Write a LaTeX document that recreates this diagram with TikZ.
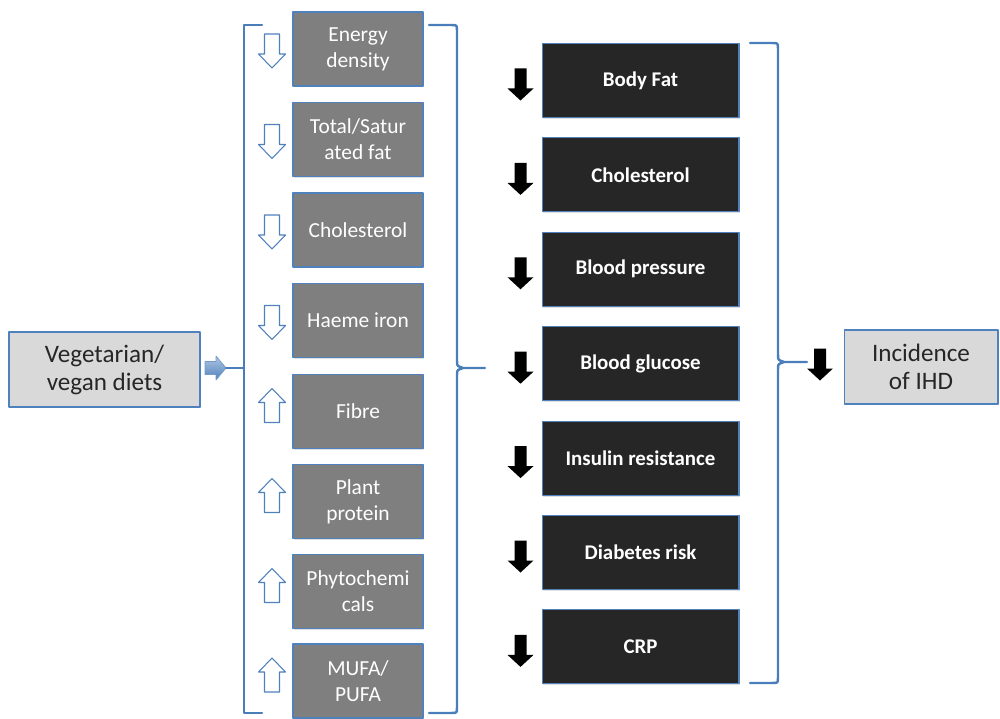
\documentclass[tikz,border=0pt]{standalone}
\usepackage{fontspec}
\setmainfont{Carlito}
\usetikzlibrary{shadows}
\definecolor{brkblue}{HTML}{4A7EBB}
\definecolor{boxblue}{HTML}{4F81BD}
\definecolor{factgray}{HTML}{7F7F7F}
\definecolor{riskblack}{HTML}{262626}
\definecolor{endgray}{HTML}{D9D9D9}
\definecolor{endtext}{HTML}{262626}
\tikzset{
  brk/.style={draw=brkblue, line width=1.4pt},
  boxshadow/.style={drop shadow={shadow xshift=0.8pt, shadow yshift=-0.8pt, opacity=0.25}},
  factbox/.style={draw=boxblue, line width=0.6pt, fill=factgray, text=white, boxshadow,
    minimum width=2.6cm, minimum height=1.48cm, inner sep=1pt, align=center,
    font=\fontsize{12.2}{14.8}\selectfont},
  riskbox/.style={draw=boxblue, line width=0.6pt, fill=riskblack, text=white, boxshadow,
    minimum width=3.94cm, minimum height=1.48cm, inner sep=1pt, align=center,
    font=\fontsize{11.9}{14}\selectfont\bfseries},
  endbox/.style={draw=boxblue, line width=0.6pt, fill=endgray, text=endtext, boxshadow,
    inner sep=1pt, align=center, font=\fontsize{14.3}{16}\selectfont},
  hollow/.style={draw=boxblue, line width=0.6pt, fill=white},
  % block arrows, drawn in picture units (1 unit = 1 px of the layout)
  pics/hollowdown/.style={code={
    \draw[hollow] (-7.5,-15) -- (7.5,-15) -- (7.5,5) -- (13.5,5) -- (0,19) -- (-13.5,5) -- (-7.5,5) -- cycle;}},
  pics/hollowup/.style={code={
    \draw[hollow] (-7.5,11) -- (7.5,11) -- (7.5,-9) -- (13.5,-9) -- (0,-23) -- (-13.5,-9) -- (-7.5,-9) -- cycle;}},
  pics/soliddown/.style={code={
    \fill[black] (-6,-16) -- (6,-16) -- (6,4) -- (13,4) -- (0,16) -- (-13,4) -- (-6,4) -- cycle;}},
  pics/blueright/.style={code={
    \shade[top color=boxblue!45, bottom color=boxblue, draw=boxblue!80, line width=0.4pt]
      (-10,-6.5) -- (1,-6.5) -- (1,-12) -- (11,0) -- (1,12) -- (1,6.5) -- (-10,6.5) -- cycle;}},
}
\begin{document}
\begin{tikzpicture}[x=0.02cm, y=-0.02cm, line join=round, line cap=round]
\useasboundingbox (0,0) rectangle (1000,719);
% diet and outcome
\node[endbox, minimum width=3.82cm, minimum height=1.5cm] (veg) at (104.5,369.5) {Vegetarian/\\vegan diets};
\node[endbox, minimum width=3.08cm, minimum height=1.48cm] (ihd) at (921,367) {Incidence\\of IHD};
% dietary factors
\foreach \yc/\dir/\txt [count=\i] in {49/down/{Energy\\density}, 139.5/down/{Total/Satur\\ated fat},
    230/down/Cholesterol, 320.5/down/{Haeme iron}, 411.5/up/Fibre, 501.5/up/{Plant\\protein},
    591.5/up/{Phytochemi\\cals}, 681/up/{MUFA/\\PUFA}}{
  \node[factbox] (f\i) at (358,\yc) {\txt};
  \pic at (272,\yc) {hollow\dir};
}
% risk factors
\foreach \yc/\txt [count=\i] in {80.5/Body Fat, 174.9/Cholesterol, 269.3/Blood pressure,
    363.7/Blood glucose, 458.1/Insulin resistance, 552.5/Diabetes risk, 646.9/CRP}{
  \node[riskbox] (r\i) at (640.5,\yc) {\txt};
  \pic at (520.5,\yc+4) {soliddown};
}
% brackets
\pic (inarr) at (215,368) {blueright};
\coordinate (lbrk) at (244,368);
\coordinate (inend) at (226,368);
\draw[brk] (inend) -- (lbrk);
\draw[brk] (262,25) -| (244,713) -- (262,713);
\draw[brk] (429,25) -- (451,25) .. controls (457,25) .. (457,31) -- (457,361)
  .. controls (457,366) .. (463,368) -- (485,368);
\draw[brk] (463,368) .. controls (457,370) .. (457,375) -- (457,707)
  .. controls (457,713) .. (451,713) -- (429,713);
\draw[brk] (750,43) -- (772,43) .. controls (778,43) .. (778,49) -- (778,355)
  .. controls (778,360) .. (784,362) -- (807,362);
\draw[brk] (784,362) .. controls (778,364) .. (778,369) -- (778,677)
  .. controls (778,683) .. (772,683) -- (750,683);
\pic at (820,364.5) {soliddown};
\end{tikzpicture}
\end{document}
